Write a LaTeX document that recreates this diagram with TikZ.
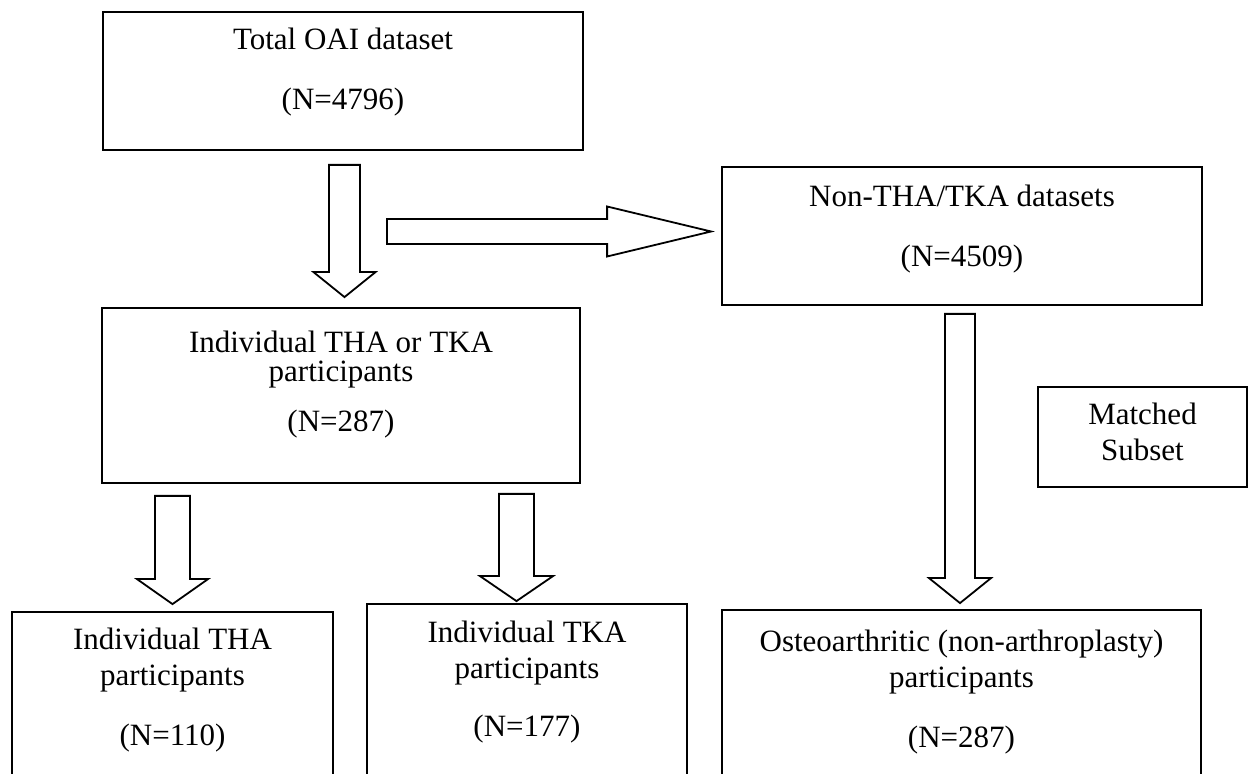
\documentclass[tikz,border=0pt]{standalone}
\usepackage{fontspec}
\setmainfont{Liberation Serif}
\usetikzlibrary{positioning,calc}

\tikzset{
  box/.style={draw, line width=0.9pt, inner sep=0pt},
  txt/.style={align=center, inner sep=0pt, font=\fontsize{15.5}{18}\selectfont},
  blockarrow/.style={draw, line width=0.9pt, line join=miter},
}

% hollow block arrow going down: tail, tip, shaft half width, head half width
\newcommand{\blockdown}[4]{%
  \draw[blockarrow] let \p1=(#1), \p2=(#2) in
    (\x1-#3,\y1) -- (\x1-#3,\y2+12.5pt) -- (\x1-#4,\y2+12.5pt) -- (\x1,\y2)
    -- (\x1+#4,\y2+12.5pt) -- (\x1+#3,\y2+12.5pt) -- (\x1+#3,\y1) -- cycle;}

\begin{document}
\begin{tikzpicture}[x=0.5pt, y=-0.5pt]
    \useasboundingbox (0,0) rectangle (1248,774);

    \node[box, minimum width=240pt, minimum height=69pt] (total) at (343,81) {};
    \node[txt, below=8pt of total.north] (total-t) {Total OAI dataset\\[12pt](N=4796)};

    \node[box, minimum width=240pt, minimum height=69pt] (nonth) at (962,236) {};
    \node[txt, below=9pt of nonth.north] (nonth-t) {Non-THA/TKA datasets\\[12pt](N=4509)};

    \node[box, minimum width=239pt, minimum height=87.5pt] (indiv) at (341,395.5) {};
    \node[txt, below=11.5pt of indiv.north] (indiv-t) {Individual THA or TKA\\[-3.5pt]participants\\[7pt](N=287)};

    \node[box, minimum width=104.5pt, minimum height=50pt] (matched) at (1142.5,437) {};
    \node[txt, below=8pt of matched.north] (matched-t) {Matched\\Subset};

    \node[box, minimum width=160.5pt, minimum height=89pt] (tha) at (172.5,701) {};
    \node[txt, below=8.4pt of tha.north] (tha-t) {Individual THA\\participants\\[12pt](N=110)};

    \node[box, minimum width=160pt, minimum height=93pt] (tka) at (527,697) {};
    \node[txt, below=8.5pt of tka.north] (tka-t) {Individual TKA\\participants\\[11pt](N=177)};

    \node[box, minimum width=239.5pt, minimum height=90pt] (osteo) at (961.5,700) {};
    \node[txt, below=10.3pt of osteo.north] (osteo-t) {Osteoarthritic (non-arthroplasty)\\participants\\[12pt](N=287)};

    % arrow ends
    \coordinate (a1s) at ($(total.south)+(1.5,14)$);
    \coordinate (a1e) at ($(indiv.north)+(0,-10)$);
    \coordinate (a2s) at ($(tha.north |- indiv.south)+(0,12)$);
    \coordinate (a2e) at ($(tha.north)+(0,-7)$);
    \coordinate (a3s) at ($(tka.north |- indiv.south)+(-10.5,10)$);
    \coordinate (a3e) at ($(tka.north)+(0,-2)$);
    \coordinate (a4s) at ($(nonth.south)+(-2,8)$);
    \coordinate (a4e) at ($(osteo.north)+(0,-6)$);
    \coordinate (r0) at (387,231.5);
    \coordinate (r1) at ($(nonth.west)+(-10,-4.5)$);

    \blockdown{a1s}{a1e}{7.75pt}{15.5pt}
    \blockdown{a2s}{a2e}{8.75pt}{17.75pt}
    \blockdown{a3s}{a3e}{8.75pt}{18.25pt}
    \blockdown{a4s}{a4e}{7.5pt}{15.5pt}

    \draw[blockarrow] let \p1=(r0), \p2=(r1) in
      (\x1,\y1+6.25pt) -- (\x2-52pt,\y1+6.25pt) -- (\x2-52pt,\y1+12.5pt) -- (\x2,\y1)
      -- (\x2-52pt,\y1-12.5pt) -- (\x2-52pt,\y1-6.25pt) -- (\x1,\y1-6.25pt) -- cycle;
\end{tikzpicture}
\end{document}
